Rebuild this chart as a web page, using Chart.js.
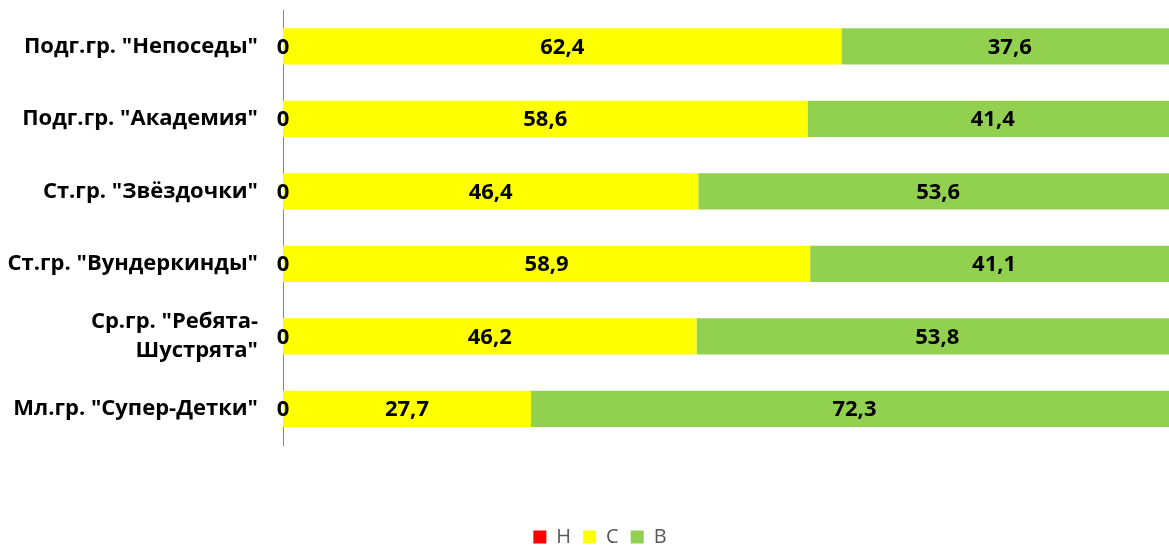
<!DOCTYPE html>
<html>
<head>
<meta charset="utf-8">
<script src="https://cdn.jsdelivr.net/npm/chart.js@4"></script>
<style>
  html, body { margin: 0; padding: 0; background: #fff; overflow: hidden; }
  #wrap { width: 1178px; height: 547px; }
</style>
</head>
<body>
<div id="wrap"><canvas id="grafico"></canvas></div>
<script>
// Группы (сверху вниз)
const grupos = [
  'Подг.гр. "Непоседы"',
  'Подг.гр. "Академия"',
  'Ст.гр. "Звёздочки"',
  'Ст.гр. "Вундеркинды"',
  ['Ср.гр. "Ребята-', 'Шустрята"'],
  'Мл.гр. "Супер-Детки"'
];

const valoresH = [0, 0, 0, 0, 0, 0];
const valoresC = [62.4, 58.6, 46.4, 58.9, 46.2, 27.7];
const valoresB = [37.6, 41.4, 53.6, 41.1, 53.8, 72.3];

const fonte = "'Open Sans', sans-serif";

// Rótulos dentro das barras
const rotulosPlugin = {
  id: "rotulos",
  afterDatasetsDraw(chart) {
    const ctx = chart.ctx;
    ctx.save();
    ctx.font = "bold 22px " + fonte;
    ctx.fillStyle = "#000";
    ctx.textAlign = "center";
    ctx.textBaseline = "middle";
    chart.data.datasets.forEach((ds, i) => {
      const meta = chart.getDatasetMeta(i);
      meta.data.forEach((bar, j) => {
        const v = ds.data[j];
        const x = (bar.x + bar.base) / 2;
        ctx.fillText(String(v).replace(".", ","), x, bar.y + 1);
      });
    });
    ctx.restore();
  }
};

// Legenda mais baixa e deslocada
const legendaPlugin = {
  id: "legendaBaixa",
  beforeInit(chart) {
    const fitOrig = chart.legend.fit;
    chart.legend.fit = function () {
      fitOrig.call(this);
      this.height = 32;
    };
  },
  afterLayout(chart) {
    chart.legend.left += 22;
  }
};

new Chart(document.getElementById("grafico"), {
  type: "bar",
  data: {
    labels: grupos,
    datasets: [
      { label: "Н", data: valoresH, backgroundColor: "#FF0000" },
      { label: "С", data: valoresC, backgroundColor: "#FFFF00" },
      { label: "В", data: valoresB, backgroundColor: "#92D050" }
    ]
  },
  options: {
    indexAxis: "y",
    responsive: true,
    maintainAspectRatio: false,
    animation: false,
    categoryPercentage: 1,
    barPercentage: 0.5,
    layout: { padding: { top: 10, right: 0, bottom: 0, left: 0 } },
    scales: {
      x: {
        stacked: true,
        min: 0,
        max: 100,
        grid: { display: false },
        border: { display: false },
        ticks: { display: false },
        afterFit(scale) { scale.height = 70; }
      },
      y: {
        stacked: true,
        grid: { display: false, drawTicks: false },
        border: { display: true, color: "#868686", width: 1 },
        ticks: {
          color: "#000",
          padding: 25,
          font: { family: fonte, size: 22, weight: "bold", lineHeight: 1.36 }
        },
        afterFit(scale) {
          scale.width = 283;
          scale.paddingTop = 0;
          scale.paddingBottom = 0;
        }
      }
    },
    plugins: {
      tooltip: { enabled: false },
      legend: {
        position: "bottom",
        labels: {
          boxWidth: 13,
          boxHeight: 13,
          padding: 12,
          color: "#595959",
          font: { family: fonte, size: 20 }
        }
      }
    }
  },
  plugins: [rotulosPlugin, legendaPlugin]
});
</script>
</body>
</html>
